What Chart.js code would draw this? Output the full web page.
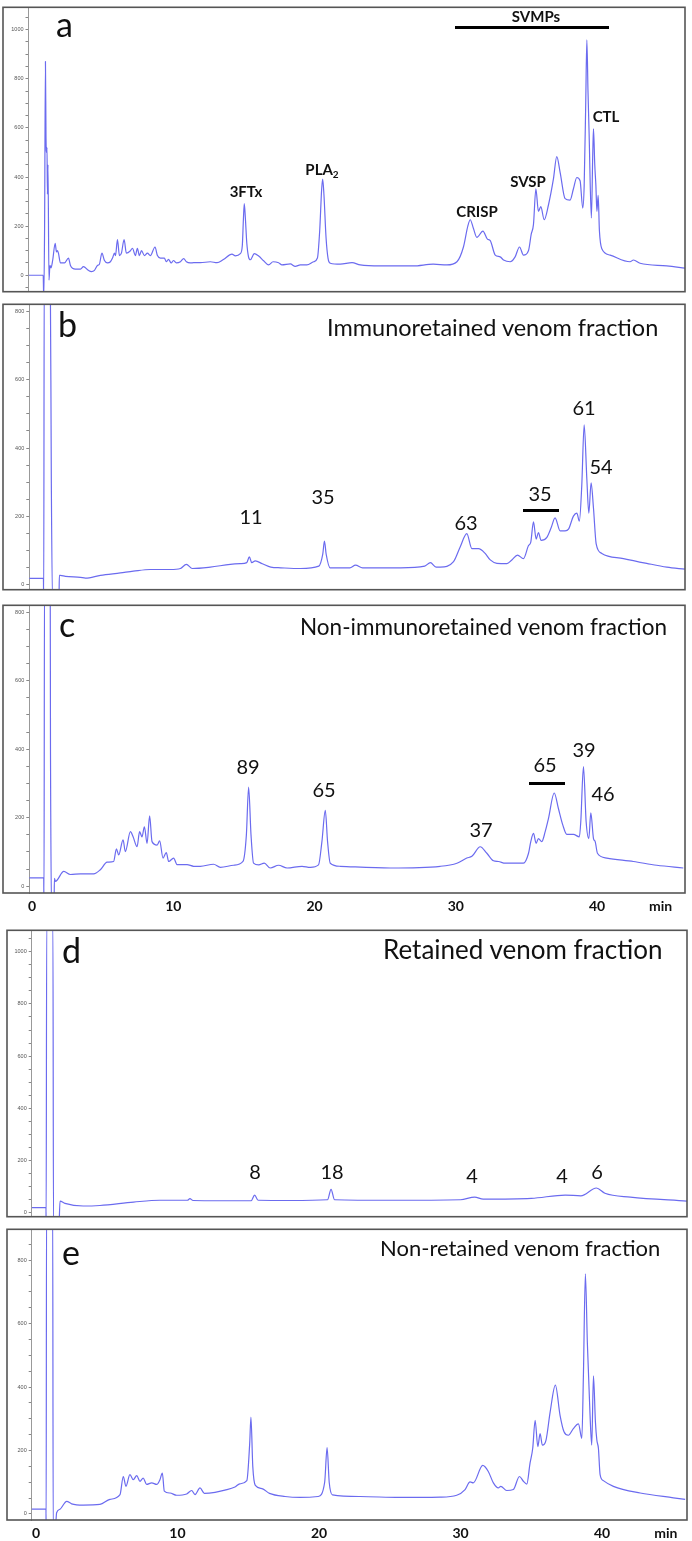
<!DOCTYPE html>
<html><head><meta charset="utf-8">
<script src="https://cdn.jsdelivr.net/npm/chart.js@4"></script>
<style>
body{margin:0;background:#fff;width:692px;height:1541px;position:relative;overflow:hidden;font-family:Lato,"Open Sans",sans-serif}
canvas{position:absolute}
.t{position:absolute;white-space:nowrap;color:#111;line-height:1}
.c{transform:translateX(-50%)}
.lt{font-size:34px}
.n{font-size:20px}
.bl{font-weight:bold;font-size:15px}
.bar{position:absolute;height:3px;background:#000}
sub{font-size:10px;vertical-align:-3px}
</style></head><body>
<canvas id="cA"></canvas><canvas id="cB"></canvas><canvas id="cC"></canvas><canvas id="cD"></canvas><canvas id="cE"></canvas>
<script>
// ---- data: retention time (min) and absorbance (mAU) ----
const timeA = [-0.26,0.78,0.82,0.88,0.94,0.98,1.02,1.05,1.08,1.12,
1.19,1.26,1.33,1.45,1.63,1.72,1.79,1.86,2.00,2.29,
2.57,2.71,3.06,3.42,3.63,3.98,4.20,4.41,4.62,4.76,
4.94,5.12,5.33,5.54,5.69,5.83,5.90,6.04,6.18,6.32,
6.51,6.67,6.96,7.10,7.31,7.45,7.59,7.74,7.95,8.16,
8.37,8.70,8.87,9.08,9.36,9.50,9.65,9.85,10.00,10.21,
10.50,10.73,10.92,11.20,11.44,11.91,12.62,13.09,13.54,14.15,
14.39,14.74,14.88,14.96,15.02,15.10,15.20,15.32,15.45,15.73,
16.04,16.39,16.74,17.06,17.45,17.69,18.28,18.63,18.99,19.46,
19.93,20.20,20.36,20.50,20.57,20.66,20.81,20.95,21.11,21.82,
22.65,23.23,24.65,26.98,28.40,29.37,30.08,30.54,30.85,31.02,
31.25,31.49,31.92,32.24,32.44,32.79,33.14,33.38,33.85,34.20,
34.51,34.79,35.15,35.34,35.50,35.67,35.85,36.02,36.26,36.56,
36.91,37.15,37.39,37.74,38.09,38.33,38.57,38.80,38.99,39.09,
39.20,39.28,39.36,39.44,39.60,39.70,39.75,39.84,39.92,39.99,
40.08,40.17,40.34,40.93,42.34,42.58,43.05,44.94,46.23];
const absA = [0,0,-100,200,870,560,500,520,330,450,
-20,40,30,60,130,95,100,90,50,50,
70,40,25,25,35,20,15,20,40,45,
90,60,50,55,70,90,80,145,80,90,
145,90,100,110,80,110,80,100,80,90,
80,115,80,70,70,55,65,50,60,50,
55,68,55,50,51,51,55,51,64,86,
79,88,120,230,292,230,130,75,63,88,
78,59,42,55,51,42,46,36,42,42,
55,70,180,350,391,330,154,70,49,45,
51,42,38,38,45,42,55,115,200,226,
190,154,180,147,141,82,75,62,55,75,
115,82,101,167,207,352,260,279,226,286,
391,483,418,312,306,352,398,385,273,365,
700,958,750,576,233,500,596,450,365,260,
325,180,108,82,55,62,49,38,29];

const timeB = [-0.25,0.80,0.82,0.86,1.28,1.36,1.44,1.90,1.93,2.00,
2.36,3.42,3.77,4.84,6.25,7.17,8.37,9.79,10.50,10.92,
11.34,12.62,14.03,14.74,15.20,15.38,15.55,15.80,16.30,16.90,
17.60,19.00,20.30,20.58,20.70,20.82,21.10,22.50,22.90,23.40,
26.10,27.80,28.20,28.60,28.90,29.84,30.31,30.78,31.14,31.61,
32.08,32.44,32.91,33.62,33.97,34.37,34.79,35.15,35.31,35.50,
35.69,35.85,36.04,36.45,36.75,37.03,37.39,37.74,37.98,38.33,
38.57,38.75,38.92,39.09,39.28,39.42,39.58,39.75,39.94,40.34,
41.87,43.52,44.94,46.23];
const absB = [19,19,-60,950,950,300,-40,-40,28,28,
25,22,20,28,35,40,45,45,48,60,
48,52,60,62,65,82,65,70,62,52,
50,48,55,90,128,90,50,50,58,50,
50,55,65,52,52,68,111,150,106,106,
92,73,63,62,73,87,77,115,125,184,
134,153,130,139,167,196,158,158,163,201,
210,186,290,468,309,210,298,224,120,92,
77,63,52,46];

const timeC = [-0.25,0.82,0.84,0.88,1.28,1.30,1.42,1.55,1.58,1.65,
2.24,2.71,3.42,4.36,4.83,5.31,5.77,5.97,6.13,6.44,
6.60,6.96,7.15,7.43,7.61,7.78,7.95,8.14,8.32,8.49,
8.85,9.03,9.27,9.50,9.67,10.02,10.26,10.97,11.44,11.91,
12.85,13.33,14.27,14.93,15.17,15.33,15.50,15.68,16.04,16.44,
16.86,17.45,18.05,19.11,19.70,20.28,20.52,20.76,20.92,21.11,
21.82,25.36,28.90,30.08,30.78,31.14,31.73,32.20,32.67,33.02,
33.50,34.79,35.15,35.31,35.50,35.69,35.85,36.09,36.33,36.56,
36.97,37.27,37.58,37.86,38.33,38.75,38.85,39.04,39.23,39.42,
39.56,39.75,39.87,40.03,40.69,42.58,44.23,46.11];
const absC = [24,24,-60,950,950,400,-60,-60,23,14,
43,34,36,36,48,70,72,109,91,135,
101,159,144,115,159,144,173,125,205,130,
120,132,82,98,72,82,63,63,58,58,
64,55,61,72,149,289,149,67,62,67,
53,61,53,58,55,62,130,221,130,67,
58,53,58,67,82,87,115,96,74,72,
67,67,96,130,154,125,139,130,159,197,
272,226,178,151,151,144,188,349,188,139,
214,139,130,96,82,72,61,53];

const timeD = [-0.30,0.71,0.72,0.76,1.20,1.24,1.62,1.70,2.05,3.34,
4.52,6.90,8.76,10.70,10.88,11.10,13.00,15.20,15.45,15.70,
18.00,20.60,20.85,21.10,25.00,30.00,31.00,31.60,35.00,37.40,
38.50,39.60,40.20,42.00,46.00];
const absD = [20,20,-60,1100,1100,-60,-60,45,36,26,
28,41,48,48,54,47,46,46,68,48,
47,50,90,50,48,50,60,52,55,68,
65,95,75,60,45];

const timeE = [-0.30,0.71,0.72,0.75,1.18,1.22,1.40,1.46,1.70,2.17,
2.52,3.34,4.52,5.23,5.94,6.17,6.36,6.64,6.88,7.12,
7.35,7.58,7.82,8.18,8.53,8.76,8.93,9.07,9.47,9.94,
10.65,11.00,11.24,11.59,11.90,12.65,13.35,14.06,14.40,14.90,
15.10,15.19,15.32,15.50,15.97,16.50,17.60,18.66,19.93,20.40,
20.57,20.72,20.95,22.90,25.70,28.55,29.73,30.32,30.67,30.90,
31.57,31.96,32.32,32.67,32.84,33.26,33.73,34.16,34.44,34.68,
34.91,35.10,35.27,35.46,35.62,35.78,36.04,36.33,36.70,37.03,
37.31,37.62,37.97,38.33,38.57,38.68,38.82,38.96,39.15,39.27,
39.39,39.53,39.63,39.74,39.86,40.09,40.80,42.69,45.04,45.87];
const absE = [15,15,-60,1000,1000,-60,-30,4,15,40,
32,28,30,46,61,118,87,124,108,121,
103,113,93,98,93,108,129,72,66,59,
63,74,61,82,65,68,75,85,95,105,
220,305,150,90,80,65,55,52,55,100,
209,100,60,55,52,53,59,77,101,98,
153,134,98,82,87,74,77,118,103,94,
160,207,295,212,253,217,233,321,406,311,
259,248,269,284,238,435,757,539,311,217,
435,290,233,207,124,105,87,66,51,46];

const xTicks = [0,10,20,30,40,44.5];

// ---- panel geometry (page px) ----
const panels = [
 {id:'cA', t:timeA, v:absA, left:3, top:3, right:685, bottom:296, axis:28.5, yMin:-67, yMax:1091, xMin:-0.26, xMax:46.23, showX:false},
 {id:'cB', t:timeB, v:absB, left:3, top:300, right:685, bottom:594, axis:29.3, yMin:-14, yMax:820, xMin:-0.2, xMax:46.23, showX:false},
 {id:'cC', t:timeC, v:absC, left:3, top:601, right:685, bottom:892, axis:29.3, yMin:-20, yMax:820, xMin:-0.2, xMax:46.23, showX:true},
 {id:'cD', t:timeD, v:absD, left:7, top:926, right:687, bottom:1221, axis:31.7, yMin:-15, yMax:1082, xMin:-0.3, xMax:46.0, showX:false},
 {id:'cE', t:timeE, v:absE, left:7, top:1225, right:687, bottom:1519, axis:31.7, yMin:-19, yMax:897, xMin:-0.3, xMax:46.0, showX:true}
];

const boxPlugin = {
  id:'box',
  afterDraw(chart){
    const a = chart.chartArea, ctx = chart.ctx;
    ctx.save();
    ctx.strokeStyle = '#555'; ctx.lineWidth = 1.6;
    ctx.strokeRect(1, a.top, a.right - 1, a.bottom - a.top);
    ctx.restore();
  }
};

panels.forEach(p => {
  const cv = document.getElementById(p.id);
  const W = p.right - p.left + 2, XH = p.showX ? 26 : 0;
  const H = p.bottom - p.top + 2 + XH;
  cv.width = W; cv.height = H;
  cv.style.left = (p.left - 1) + 'px'; cv.style.top = (p.top - 1) + 'px';
  cv.style.width = W + 'px'; cv.style.height = H + 'px';
  new Chart(cv, {
    type:'line',
    data:{datasets:[{data:p.t.map((x,i)=>({x:x, y:p.v[i]})), borderColor:'#6b6bef', borderWidth:1.2, pointRadius:0,
      cubicInterpolationMode:'monotone', fill:false}]},
    options:{
      responsive:false, animation:false, devicePixelRatio:1,
      layout:{padding:{top:1, right:1, bottom:p.showX?0:1, left:0}},
      plugins:{legend:{display:false}, tooltip:{enabled:false}},
      scales:{
        x:{type:'linear', min:p.xMin, max:p.xMax, display:p.showX,
           grid:{display:false, drawTicks:false}, border:{display:false},
           afterBuildTicks: s => { s.ticks = xTicks.map(v => ({value:v})); },
           afterFit: s => { s.height = XH; },
           ticks:{padding:5, color:'#111', font:{family:'Lato', size:14, weight:'bold'},
                  callback: v => v === 44.5 ? 'min' : String(v), maxRotation:0, autoSkip:false}},
        y:{min:p.yMin, max:p.yMax,
           afterFit: s => { s.width = p.axis - (p.left - 1); },
           grid:{drawOnChartArea:false, drawTicks:true, tickLength:3, color:'#888'},
           border:{display:true, color:'#999', width:1},
           ticks:{stepSize:50, includeBounds:false, autoSkip:false, padding:2, color:'#555',
                  font:{family:'Liberation Sans', size:5.5},
                  callback: v => (v % 200 === 0 ? String(v) : '')}}
      }
    },
    plugins:[boxPlugin]
  });
});
</script>

<!-- panel letters -->
<div class="t lt" style="left:56px;top:7px">a</div>
<div class="t lt" style="left:58px;top:307px">b</div>
<div class="t lt" style="left:59px;top:607px">c</div>
<div class="t lt" style="left:62px;top:933px">d</div>
<div class="t lt" style="left:62px;top:1235px">e</div>

<!-- titles -->
<div class="t" style="left:327px;top:316px;font-size:23.5px">Immunoretained venom fraction</div>
<div class="t" style="left:300px;top:616px;font-size:22.5px">Non-immunoretained venom fraction</div>
<div class="t" style="left:383px;top:936px;font-size:26px">Retained venom fraction</div>
<div class="t" style="left:380px;top:1237px;font-size:22px">Non-retained venom fraction</div>

<!-- panel a labels -->
<div class="t bl c" style="left:246px;top:184px">3FTx</div>
<div class="t bl c" style="left:322px;top:162px">PLA<sub>2</sub></div>
<div class="t bl c" style="left:477px;top:204px">CRISP</div>
<div class="t bl c" style="left:528px;top:174px">SVSP</div>
<div class="t bl c" style="left:606px;top:109px">CTL</div>
<div class="t bl c" style="left:536px;top:9px">SVMPs</div>
<div class="bar" style="left:455px;top:26px;width:154px"></div>

<!-- panel b numbers -->
<div class="t n c" style="left:251px;top:506px">11</div>
<div class="t n c" style="left:323px;top:486px">35</div>
<div class="t n c" style="left:466px;top:512px">63</div>
<div class="t n c" style="left:540px;top:483px">35</div>
<div class="bar" style="left:523px;top:509px;width:36px"></div>
<div class="t n c" style="left:584px;top:397px">61</div>
<div class="t n c" style="left:601px;top:456px">54</div>

<!-- panel c numbers -->
<div class="t n c" style="left:248px;top:756px">89</div>
<div class="t n c" style="left:324px;top:779px">65</div>
<div class="t n c" style="left:481px;top:819px">37</div>
<div class="t n c" style="left:545px;top:754px">65</div>
<div class="bar" style="left:529px;top:782px;width:36px"></div>
<div class="t n c" style="left:584px;top:739px">39</div>
<div class="t n c" style="left:603px;top:783px">46</div>

<!-- panel d numbers -->
<div class="t n c" style="left:255px;top:1161px">8</div>
<div class="t n c" style="left:332px;top:1161px">18</div>
<div class="t n c" style="left:472px;top:1165px">4</div>
<div class="t n c" style="left:562px;top:1165px">4</div>
<div class="t n c" style="left:597px;top:1161px">6</div>
</body></html>
